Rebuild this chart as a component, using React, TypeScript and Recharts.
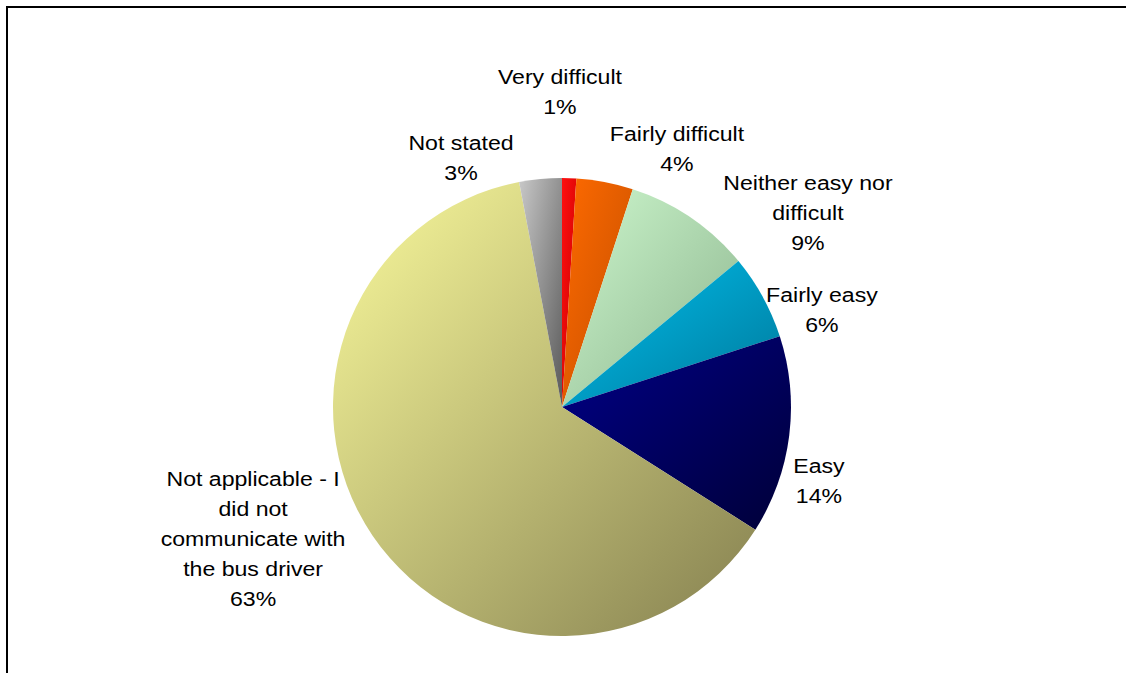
import React from "react";
import { PieChart, Pie, Cell } from "recharts";

// Ease of communicating with the bus driver (share of respondents, %)
const categories = [
  "Very difficult",
  "Fairly difficult",
  "Neither easy nor difficult",
  "Fairly easy",
  "Easy",
  "Not applicable - I did not communicate with the bus driver",
  "Not stated",
];
const labelLines = [
  ["Very difficult"],
  ["Fairly difficult"],
  ["Neither easy nor", "difficult"],
  ["Fairly easy"],
  ["Easy"],
  ["Not applicable - I", "did not", "communicate with", "the bus driver"],
  ["Not stated"],
];
const shares = [1, 4, 9, 6, 14, 63, 3];

// light -> dark gradient stops for each slice
const sliceColors = [
  ["#ff1010", "#c80000"],
  ["#ff6a00", "#c24e00"],
  ["#cdf7cd", "#8cb48e"],
  ["#00c0ee", "#00789a"],
  ["#000088", "#000038"],
  ["#fafa9c", "#858050"],
  ["#c8c8c8", "#5a5a5a"],
];

// label block centres, relative to the pie centre, in units of the outer radius
const labelOffsets = [
  [-0.009, -1.376],
  [0.502, -1.127],
  [1.074, -0.847],
  [1.135, -0.424],
  [1.122, 0.323],
  [-1.349, 0.576],
  [-0.441, -1.087],
];

const data = categories.map((name, i) => ({ name, value: shares[i] }));

const FONT = "'Liberation Sans', Arial, sans-serif";
const LINE_H = 30;

const renderLabel = (props: any) => {
  const { cx, cy, outerRadius, index, value } = props;
  const [fx, fy] = labelOffsets[index];
  const x = cx + fx * outerRadius;
  const y = cy + fy * outerRadius;
  const lines = [...labelLines[index], `${value}%`];
  const first = y - ((lines.length - 1) * LINE_H) / 2 + 7;
  return (
    <g key={`lbl-${index}`} transform={`translate(${x},0) scale(1.1,1)`}>
      {lines.map((t, k) => (
        <text
          key={k}
          x={0}
          y={first + k * LINE_H}
          textAnchor="middle"
          fontFamily={FONT}
          fontSize={21}
          fill="#000"
        >
          {t}
        </text>
      ))}
    </g>
  );
};

export default function App() {
  return (
    <div
      style={{
        position: "fixed",
        left: 0,
        top: 0,
        width: 1126,
        height: 673,
        overflow: "hidden",
        background: "#fff",
      }}
    >
      <div style={{ position: "absolute", left: 0, top: 0 }}>
        <PieChart width={1126} height={673}>
          <defs>
            {sliceColors.map(([a, b], i) => (
              <linearGradient key={i} id={`slice-${i}`} x1="0" y1="0" x2="1" y2="1">
                <stop offset="0%" stopColor={a} />
                <stop offset="100%" stopColor={b} />
              </linearGradient>
            ))}
          </defs>
          <Pie
            data={data}
            dataKey="value"
            nameKey="name"
            cx={557}
            cy={402}
            outerRadius={229}
            startAngle={90}
            endAngle={-270}
            stroke="none"
            label={renderLabel}
            labelLine={false}
            isAnimationActive={false}
          >
            {data.map((d, i) => (
              <Cell key={d.name} fill={`url(#slice-${i})`} />
            ))}
          </Pie>
        </PieChart>
      </div>
      {/* chart area frame: top and left edges */}
      <div style={{ position: "absolute", left: 6, top: 6, width: 1120, height: 2, background: "#000" }} />
      <div style={{ position: "absolute", left: 6, top: 6, width: 2, height: 667, background: "#000" }} />
    </div>
  );
}
